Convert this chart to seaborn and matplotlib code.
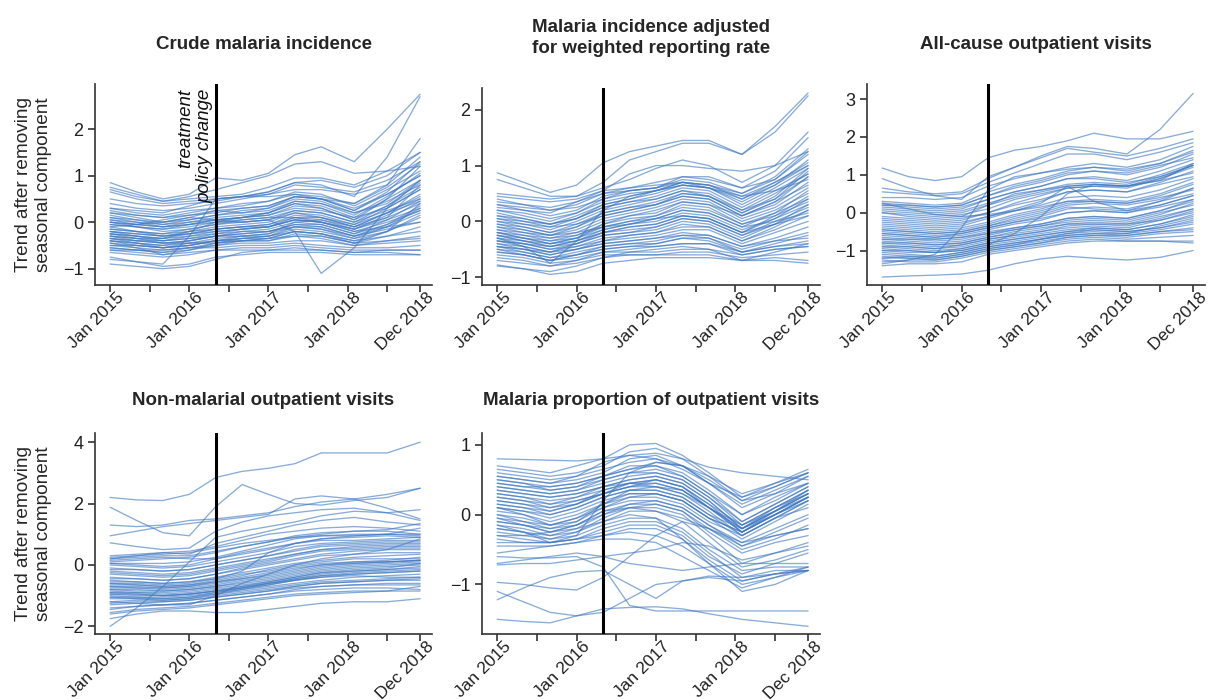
import matplotlib
matplotlib.use("Agg")
import matplotlib.pyplot as plt
import matplotlib.transforms as mtransforms
import pandas as pd
import seaborn as sns

# Months since Jan 2015 at which each district trend is sampled
months = [0, 4, 8, 12, 16, 20, 24, 28, 32, 37, 42, 47]

tick_months = [0, 6, 12, 18, 24, 30, 36, 42, 47]
tick_labels = ["Jan 2015", "", "Jan 2016", "", "Jan 2017", "", "Jan 2018", "", "Dec 2018"]
policy_change_month = 16

titles = [
    "Crude malaria incidence",
    "Malaria incidence adjusted\nfor weighted reporting rate",
    "All-cause outpatient visits",
    "Non-malarial outpatient visits",
    "Malaria proportion of outpatient visits",
]
ylabel = "Trend after removing\nseasonal component"

crude_incidence = [
    [0.85, 0.65, 0.50, 0.60, 0.95, 0.90, 1.05, 1.45, 1.62, 1.30, 2.00, 2.75],
    [0.75, 0.60, 0.45, 0.55, 0.70, 0.85, 1.00, 1.25, 1.30, 1.05, 1.10, 1.20],
    [0.70, 0.55, 0.45, 0.50, 0.55, 0.60, 0.75, 0.95, 0.95, 0.80, 1.10, 1.50],
    [0.65, 0.50, 0.40, 0.45, 0.50, 0.55, 0.65, 0.85, 0.80, 0.55, 1.40, 2.70],
    [0.50, 0.40, 0.35, 0.40, 0.45, 0.55, 0.60, 0.80, 0.75, 0.65, 0.90, 1.30],
    [0.40, 0.30, 0.25, 0.30, 0.40, 0.50, 0.60, 0.70, 0.70, 0.60, 0.80, 1.80],
    [0.30, 0.20, 0.15, 0.25, 0.30, 0.35, 0.45, 0.65, 0.60, 0.35, 0.70, 1.10],
    [0.25, 0.15, 0.10, 0.15, 0.20, 0.30, 0.35, 0.55, 0.50, 0.30, 0.60, 1.00],
    [0.20, 0.10, 0.00, 0.10, 0.25, 0.20, 0.25, 0.45, 0.40, 0.20, 0.40, 0.90],
    [0.15, 0.05, -0.05, 0.00, 0.10, 0.15, 0.20, 0.40, 0.30, 0.05, 0.50, 1.20],
    [0.10, 0.00, -0.10, 0.00, 0.05, 0.10, 0.15, 0.30, 0.25, 0.10, 0.30, 0.70],
    [0.05, -0.05, -0.10, -0.05, 0.00, 0.05, 0.10, 0.25, 0.20, 0.00, 0.25, 0.50],
    [0.00, -0.10, -0.15, -0.10, 0.00, 0.00, 0.05, 0.20, 0.15, -0.05, 0.20, 0.45],
    [-0.05, -0.10, -0.20, -0.15, -0.05, 0.05, 0.10, 0.10, 0.00, -0.15, 0.10, 0.40],
    [-0.10, -0.20, -0.25, -0.20, -0.10, -0.05, 0.00, 0.20, 0.10, -0.10, 0.20, 0.60],
    [-0.15, -0.20, -0.30, -0.20, -0.15, -0.10, -0.05, 0.10, 0.05, -0.15, 0.05, 0.30],
    [-0.20, -0.25, -0.30, -0.25, -0.20, -0.15, -0.10, 0.05, 0.00, -0.20, 0.00, 0.25],
    [-0.25, -0.30, -0.35, -0.30, -0.25, -0.20, -0.15, 0.00, -0.05, -0.25, -0.05, 0.35],
    [-0.30, -0.35, -0.40, -0.35, -0.30, -0.25, -0.20, -0.10, -0.10, -0.30, -0.10, 0.20],
    [-0.30, -0.40, -0.45, -0.40, -0.30, -0.30, -0.25, 0.00, 0.05, -0.10, 0.10, 0.80],
    [-0.35, -0.40, -0.45, -0.45, -0.35, -0.30, -0.30, -0.15, -0.20, -0.35, -0.20, 0.10],
    [-0.40, -0.45, -0.50, -0.45, -0.40, -0.35, -0.30, -0.20, -0.25, -0.40, -0.30, -0.10],
    [-0.40, -0.50, -0.55, -0.50, -0.40, -0.40, -0.35, -0.30, -0.30, -0.45, -0.40, -0.30],
    [-0.45, -0.50, -0.55, -0.45, -0.45, -0.40, -0.40, -0.25, -0.30, -0.45, -0.20, 0.40],
    [-0.50, -0.55, -0.60, -0.55, -0.50, -0.45, -0.45, -0.40, -0.40, -0.50, -0.45, -0.40],
    [-0.55, -0.60, -0.60, -0.55, -0.55, -0.50, -0.50, -0.45, -0.50, -0.55, -0.55, -0.50],
    [-0.60, -0.65, -0.70, -0.65, -0.60, -0.55, -0.55, -0.50, -0.55, -0.60, -0.60, -0.60],
    [-0.65, -0.70, -0.75, -0.70, -0.60, -0.60, -0.60, -0.60, -0.60, -0.65, -0.65, -0.70],
    [-0.75, -0.85, -0.95, -0.90, -0.75, -0.70, -0.65, -0.65, -0.65, -0.70, -0.70, -0.70],
    [-0.90, -0.95, -1.00, -0.95, -0.80, -0.65, -0.60, -0.55, -0.60, -0.65, -0.60, -0.60],
    [-0.80, -0.85, -0.90, -0.30, 0.50, 0.55, 0.55, 0.60, 0.50, 0.40, 0.80, 1.40],
    [-0.10, -0.05, 0.00, 0.10, 0.05, 0.00, 0.05, -0.20, -1.10, -0.55, 0.30, 0.90],
    [0.30, 0.25, 0.20, 0.35, 0.50, 0.55, 0.65, 0.85, 0.90, 0.75, 1.00, 1.50],
    [0.00, -0.05, 0.05, 0.15, 0.25, 0.30, 0.35, 0.55, 0.50, 0.25, 0.60, 1.00],
    [-0.20, -0.30, -0.35, -0.20, 0.00, 0.10, 0.20, 0.40, 0.35, 0.10, 0.50, 0.90],
    [-0.35, -0.40, -0.40, -0.30, -0.20, -0.15, -0.10, 0.10, 0.10, -0.05, 0.30, 0.70],
    [-0.25, -0.35, -0.45, -0.40, -0.30, -0.20, -0.20, -0.05, -0.10, -0.30, -0.15, 0.00],
    [-0.55, -0.60, -0.65, -0.60, -0.50, -0.40, -0.35, -0.20, -0.25, -0.45, -0.30, -0.20],
    [0.10, 0.05, 0.00, 0.05, 0.15, 0.25, 0.30, 0.50, 0.45, 0.20, 0.45, 0.80],
    [-0.45, -0.55, -0.70, -0.60, -0.45, -0.35, -0.30, -0.10, -0.15, -0.35, -0.10, 0.30],
    [-0.15, -0.20, -0.25, -0.15, -0.05, 0.00, 0.05, 0.25, 0.20, 0.00, 0.35, 0.85],
    [-0.30, -0.35, -0.35, -0.25, -0.15, -0.10, -0.05, 0.15, 0.10, -0.10, 0.20, 0.55],
    [-0.40, -0.45, -0.50, -0.40, -0.30, -0.25, -0.20, -0.05, -0.05, -0.25, 0.05, 0.45],
    [-0.50, -0.50, -0.55, -0.50, -0.40, -0.35, -0.35, -0.20, -0.25, -0.40, -0.20, 0.15],
    [0.05, 0.00, -0.05, 0.05, 0.15, 0.20, 0.30, 0.55, 0.50, 0.25, 0.65, 1.30],
    [-0.20, -0.25, -0.30, -0.25, -0.15, -0.10, -0.10, 0.05, 0.00, -0.20, -0.10, 0.00],
    [0.20, 0.15, 0.10, 0.20, 0.30, 0.40, 0.45, 0.60, 0.55, 0.40, 0.75, 1.25],
    [-0.05, -0.10, -0.15, -0.05, 0.05, 0.10, 0.15, 0.35, 0.30, 0.05, 0.35, 0.75],
    [-0.35, -0.45, -0.55, -0.50, -0.40, -0.30, -0.25, -0.10, -0.15, -0.30, -0.05, 0.25],
    [-0.60, -0.60, -0.65, -0.55, -0.45, -0.40, -0.40, -0.30, -0.35, -0.50, -0.40, -0.35],
    [0.00, -0.05, -0.10, -0.05, 0.05, 0.10, 0.20, 0.45, 0.40, 0.15, 0.55, 1.05],
    [-0.25, -0.30, -0.40, -0.35, -0.25, -0.15, -0.10, 0.05, 0.00, -0.15, 0.15, 0.50],
]

adjusted_incidence = [
    [0.87, 0.70, 0.52, 0.65, 1.05, 1.25, 1.35, 1.45, 1.45, 1.20, 1.70, 2.30],
    [0.75, 0.60, 0.45, 0.45, 0.70, 1.10, 1.25, 1.40, 1.40, 1.20, 1.60, 2.25],
    [0.45, 0.40, 0.35, 0.40, 0.55, 0.85, 1.00, 1.00, 0.95, 0.90, 1.00, 1.25],
    [0.50, 0.45, 0.40, 0.45, 0.60, 0.75, 0.95, 1.10, 1.00, 0.70, 1.00, 1.60],
    [0.30, 0.20, 0.15, 0.35, 0.55, 0.60, 0.70, 0.80, 0.75, 0.60, 0.90, 1.50],
    [0.25, 0.20, 0.10, 0.20, 0.45, 0.55, 0.60, 0.75, 0.70, 0.50, 0.80, 1.30],
    [0.20, 0.10, 0.00, 0.15, 0.40, 0.50, 0.55, 0.70, 0.65, 0.40, 0.70, 1.00],
    [0.15, 0.05, -0.05, 0.10, 0.30, 0.40, 0.50, 0.65, 0.60, 0.30, 0.60, 0.95],
    [0.10, 0.00, -0.10, 0.05, 0.25, 0.35, 0.45, 0.60, 0.55, 0.25, 0.55, 0.85],
    [0.05, -0.05, -0.15, 0.00, 0.20, 0.30, 0.40, 0.55, 0.45, 0.15, 0.40, 0.80],
    [0.00, -0.10, -0.20, -0.05, 0.15, 0.25, 0.30, 0.45, 0.40, 0.10, 0.30, 0.70],
    [-0.05, -0.15, -0.25, -0.15, 0.05, 0.15, 0.25, 0.40, 0.35, 0.05, 0.25, 0.60],
    [-0.10, -0.20, -0.30, -0.20, 0.00, 0.10, 0.20, 0.35, 0.30, 0.00, 0.20, 0.50],
    [-0.15, -0.25, -0.35, -0.25, -0.05, 0.05, 0.10, 0.25, 0.20, -0.05, 0.15, 0.40],
    [-0.20, -0.30, -0.40, -0.30, -0.15, -0.05, 0.00, 0.15, 0.10, -0.15, 0.05, 0.30],
    [-0.25, -0.35, -0.45, -0.35, -0.20, -0.15, -0.10, 0.05, 0.00, -0.25, 0.00, 0.25],
    [-0.30, -0.40, -0.45, -0.40, -0.25, -0.20, -0.15, 0.00, -0.05, -0.30, -0.05, 0.20],
    [-0.35, -0.40, -0.50, -0.45, -0.30, -0.25, -0.20, -0.10, -0.10, -0.35, -0.15, 0.10],
    [-0.40, -0.45, -0.55, -0.45, -0.35, -0.30, -0.25, -0.15, -0.15, -0.40, -0.20, 0.00],
    [-0.40, -0.50, -0.60, -0.50, -0.40, -0.35, -0.30, -0.20, -0.25, -0.45, -0.30, -0.10],
    [-0.45, -0.55, -0.65, -0.55, -0.45, -0.40, -0.40, -0.30, -0.30, -0.50, -0.35, -0.20],
    [-0.50, -0.55, -0.65, -0.60, -0.50, -0.45, -0.45, -0.40, -0.40, -0.55, -0.45, -0.40],
    [-0.55, -0.60, -0.70, -0.65, -0.55, -0.55, -0.55, -0.50, -0.50, -0.60, -0.50, -0.45],
    [-0.60, -0.65, -0.75, -0.70, -0.60, -0.60, -0.60, -0.55, -0.55, -0.65, -0.60, -0.55],
    [-0.70, -0.75, -0.80, -0.75, -0.65, -0.60, -0.60, -0.60, -0.60, -0.70, -0.65, -0.70],
    [-0.80, -0.85, -0.95, -0.90, -0.75, -0.70, -0.65, -0.65, -0.65, -0.70, -0.70, -0.75],
    [-0.78, -0.85, -0.90, -0.80, -0.65, -0.55, -0.50, -0.45, -0.50, -0.70, -0.55, -0.40],
    [-0.30, -0.45, -0.75, -0.35, 0.20, 0.45, 0.55, 0.65, 0.60, 0.45, 0.70, 1.05],
    [0.30, 0.25, 0.20, 0.25, 0.40, 0.55, 0.60, 0.80, 0.80, 0.60, 0.75, 1.20],
    [0.00, -0.05, -0.10, -0.05, 0.10, 0.20, 0.30, 0.50, 0.45, 0.20, 0.40, 0.90],
    [-0.20, -0.25, -0.30, -0.25, -0.10, 0.00, 0.10, 0.30, 0.25, -0.05, 0.10, 0.45],
    [-0.35, -0.45, -0.55, -0.40, -0.20, -0.10, -0.05, 0.10, 0.05, -0.20, 0.10, 0.35],
    [-0.50, -0.60, -0.70, -0.60, -0.45, -0.40, -0.35, -0.25, -0.30, -0.55, -0.40, -0.25],
    [-0.15, -0.20, -0.25, -0.20, -0.10, 0.00, 0.05, 0.20, 0.15, -0.10, 0.00, 0.15],
    [0.40, 0.30, 0.20, 0.30, 0.50, 0.60, 0.65, 0.70, 0.65, 0.45, 0.55, 0.75],
    [-0.45, -0.50, -0.55, -0.50, -0.40, -0.35, -0.30, -0.25, -0.25, -0.45, -0.35, -0.30],
    [0.05, 0.00, -0.05, 0.05, 0.30, 0.40, 0.55, 0.70, 0.60, 0.40, 0.65, 1.00],
    [-0.25, -0.30, -0.40, -0.30, -0.05, 0.10, 0.15, 0.35, 0.30, 0.10, 0.35, 0.80],
    [-0.10, -0.15, -0.25, -0.10, 0.15, 0.25, 0.35, 0.50, 0.45, 0.15, 0.45, 0.95],
    [-0.30, -0.35, -0.45, -0.35, -0.15, -0.05, 0.05, 0.20, 0.15, -0.10, 0.15, 0.55],
    [-0.45, -0.50, -0.60, -0.50, -0.35, -0.25, -0.20, -0.05, -0.10, -0.35, -0.10, 0.20],
    [0.20, 0.15, 0.05, 0.15, 0.35, 0.45, 0.55, 0.65, 0.60, 0.35, 0.65, 1.10],
    [-0.20, -0.30, -0.35, -0.30, -0.10, -0.05, 0.05, 0.10, 0.05, -0.20, -0.05, 0.10],
    [0.10, 0.05, -0.05, 0.05, 0.25, 0.35, 0.40, 0.55, 0.50, 0.20, 0.50, 0.85],
    [-0.55, -0.60, -0.70, -0.60, -0.50, -0.45, -0.40, -0.30, -0.35, -0.55, -0.45, -0.35],
    [-0.05, -0.10, -0.20, -0.10, 0.10, 0.20, 0.30, 0.45, 0.40, 0.10, 0.35, 0.65],
    [-0.35, -0.40, -0.50, -0.40, -0.25, -0.20, -0.10, 0.05, 0.00, -0.25, -0.05, 0.30],
    [0.35, 0.30, 0.25, 0.35, 0.50, 0.55, 0.60, 0.70, 0.65, 0.50, 0.75, 1.25],
    [-0.65, -0.70, -0.80, -0.70, -0.55, -0.50, -0.45, -0.40, -0.40, -0.60, -0.50, -0.45],
    [-0.25, -0.35, -0.40, -0.35, -0.20, -0.10, -0.05, 0.10, 0.05, -0.20, 0.05, 0.40],
]

allcause_visits = [
    [1.18, 0.95, 0.85, 0.95, 1.45, 1.65, 1.75, 1.90, 2.10, 1.95, 1.95, 2.15],
    [0.90, 0.65, 0.45, 0.35, 0.95, 1.20, 1.50, 1.75, 1.70, 1.55, 2.20, 3.15],
    [0.65, 0.55, 0.50, 0.55, 0.90, 1.20, 1.45, 1.70, 1.60, 1.50, 1.70, 1.95],
    [0.55, 0.50, 0.45, 0.50, 0.80, 1.05, 1.30, 1.55, 1.55, 1.40, 1.60, 1.85],
    [0.40, 0.40, 0.35, 0.40, 0.70, 0.90, 1.05, 1.20, 1.30, 1.20, 1.40, 1.75],
    [0.30, 0.25, 0.20, 0.25, 0.55, 0.75, 0.90, 1.10, 1.20, 1.10, 1.30, 1.65],
    [0.25, 0.20, 0.15, 0.20, 0.45, 0.65, 0.80, 1.00, 1.10, 1.00, 1.20, 1.55],
    [0.20, 0.15, 0.10, 0.15, 0.35, 0.55, 0.70, 0.90, 0.95, 0.85, 1.10, 1.40],
    [0.10, 0.05, 0.00, 0.05, 0.25, 0.45, 0.60, 0.75, 0.80, 0.75, 1.00, 1.30],
    [0.00, -0.05, -0.10, -0.05, 0.10, 0.35, 0.50, 0.65, 0.70, 0.65, 0.90, 1.20],
    [-0.10, -0.15, -0.20, -0.15, 0.00, 0.25, 0.45, 0.65, 0.70, 0.70, 0.85, 1.05],
    [-0.20, -0.25, -0.30, -0.25, -0.10, 0.10, 0.30, 0.55, 0.60, 0.55, 0.75, 0.95],
    [-0.30, -0.35, -0.40, -0.35, -0.15, 0.05, 0.20, 0.40, 0.45, 0.40, 0.60, 0.90],
    [-0.40, -0.45, -0.50, -0.45, -0.30, -0.10, 0.05, 0.25, 0.30, 0.25, 0.40, 0.60],
    [-0.50, -0.55, -0.60, -0.55, -0.40, -0.25, -0.10, 0.10, 0.15, 0.10, 0.30, 0.50],
    [-0.55, -0.60, -0.65, -0.60, -0.45, -0.30, -0.20, 0.00, 0.05, 0.00, 0.15, 0.35],
    [-0.60, -0.65, -0.70, -0.65, -0.50, -0.40, -0.30, -0.15, -0.10, -0.15, 0.05, 0.30],
    [-0.70, -0.75, -0.80, -0.75, -0.60, -0.45, -0.35, -0.20, -0.15, -0.20, 0.00, 0.20],
    [-0.75, -0.80, -0.85, -0.80, -0.65, -0.55, -0.45, -0.30, -0.25, -0.30, -0.10, 0.10],
    [-0.80, -0.85, -0.90, -0.85, -0.70, -0.60, -0.50, -0.40, -0.35, -0.40, -0.20, 0.00],
    [-0.85, -0.90, -0.95, -0.90, -0.75, -0.65, -0.55, -0.45, -0.40, -0.45, -0.30, -0.10],
    [-0.90, -0.95, -1.00, -0.95, -0.80, -0.70, -0.60, -0.50, -0.45, -0.50, -0.40, -0.20],
    [-1.00, -1.05, -1.05, -1.00, -0.85, -0.75, -0.65, -0.55, -0.50, -0.55, -0.45, -0.30],
    [-1.05, -1.10, -1.15, -1.05, -0.90, -0.80, -0.70, -0.60, -0.55, -0.60, -0.50, -0.40],
    [-1.10, -1.15, -1.20, -1.10, -0.95, -0.85, -0.75, -0.65, -0.60, -0.65, -0.55, -0.50],
    [-1.20, -1.20, -1.25, -1.15, -1.00, -0.90, -0.80, -0.70, -0.65, -0.70, -0.65, -0.60],
    [-1.25, -1.30, -1.30, -1.20, -1.05, -0.95, -0.85, -0.75, -0.70, -0.75, -0.75, -0.75],
    [-1.40, -1.35, -1.35, -1.30, -1.10, -1.00, -0.90, -0.80, -0.75, -0.75, -0.75, -0.80],
    [-1.70, -1.67, -1.65, -1.62, -1.52, -1.35, -1.22, -1.15, -1.20, -1.25, -1.18, -1.00],
    [-1.35, -1.25, -1.10, -0.40, 0.60, 0.95, 1.05, 1.15, 1.20, 1.15, 1.30, 1.60],
    [0.25, 0.10, -0.05, -0.10, -0.05, 0.05, 0.25, 0.70, 0.75, 0.70, 0.85, 1.30],
    [-0.95, -1.00, -1.05, -1.00, -0.85, -0.55, -0.10, 0.50, 0.75, 0.70, 0.90, 1.25],
    [0.00, -0.10, -0.15, -0.10, 0.20, 0.50, 0.60, 0.70, 0.30, 0.05, 0.30, 0.65],
    [-0.45, -0.50, -0.55, -0.50, -0.35, -0.20, -0.05, 0.15, 0.10, 0.05, 0.20, 0.45],
    [-0.65, -0.70, -0.70, -0.65, -0.55, -0.45, -0.35, -0.25, -0.20, -0.25, -0.05, 0.25],
    [0.15, 0.10, 0.05, 0.10, 0.35, 0.55, 0.70, 0.90, 0.90, 0.80, 0.95, 1.25],
    [-0.25, -0.30, -0.35, -0.30, -0.10, 0.05, 0.15, 0.30, 0.30, 0.25, 0.45, 0.75],
    [-1.15, -1.20, -1.20, -1.10, -0.95, -0.85, -0.70, -0.60, -0.55, -0.55, -0.35, -0.15],
    [-0.35, -0.40, -0.45, -0.40, -0.25, -0.05, 0.10, 0.30, 0.35, 0.30, 0.50, 0.80],
    [-0.55, -0.60, -0.65, -0.55, -0.40, -0.25, -0.15, 0.00, 0.05, 0.00, 0.20, 0.45],
    [-0.90, -0.90, -0.95, -0.85, -0.70, -0.60, -0.50, -0.35, -0.30, -0.35, -0.15, 0.10],
    [-1.00, -1.00, -1.05, -0.95, -0.80, -0.70, -0.60, -0.50, -0.40, -0.45, -0.30, -0.05],
    [0.05, 0.00, -0.05, 0.00, 0.20, 0.40, 0.55, 0.70, 0.75, 0.70, 0.95, 1.25],
    [-0.15, -0.20, -0.25, -0.20, 0.00, 0.20, 0.35, 0.55, 0.60, 0.55, 0.80, 1.10],
    [-0.70, -0.70, -0.75, -0.70, -0.55, -0.40, -0.30, -0.15, -0.10, -0.15, 0.05, 0.35],
    [-1.20, -1.15, -1.15, -1.05, -0.90, -0.80, -0.70, -0.55, -0.45, -0.50, -0.40, -0.25],
    [0.20, 0.20, 0.15, 0.20, 0.45, 0.70, 0.85, 1.05, 1.10, 1.05, 1.25, 1.45],
    [-0.45, -0.50, -0.55, -0.50, -0.35, -0.15, 0.00, 0.20, 0.25, 0.20, 0.35, 0.65],
    [-0.80, -0.80, -0.85, -0.80, -0.65, -0.50, -0.40, -0.30, -0.30, -0.30, -0.20, 0.05],
    [-1.30, -1.25, -1.25, -1.15, -1.00, -0.90, -0.80, -0.65, -0.60, -0.60, -0.50, -0.45],
]

nonmalarial_visits = [
    [2.20, 2.12, 2.10, 2.30, 2.85, 3.05, 3.15, 3.30, 3.65, 3.65, 3.65, 4.00],
    [1.88, 1.45, 1.05, 0.95, 1.90, 2.62, 2.30, 2.00, 1.95, 2.10, 2.20, 2.50],
    [1.30, 1.25, 1.30, 1.45, 1.50, 1.60, 1.70, 1.90, 2.05, 2.15, 2.30, 2.50],
    [0.95, 1.10, 1.25, 1.35, 1.45, 1.55, 1.65, 2.15, 2.25, 2.15, 1.85, 1.50],
    [0.72, 0.60, 0.50, 0.55, 1.10, 1.40, 1.60, 1.70, 1.80, 1.85, 1.70, 1.45],
    [-2.00, -1.40, -0.70, 0.10, 0.90, 1.10, 1.25, 1.40, 1.60, 1.75, 1.70, 1.80],
    [0.30, 0.35, 0.40, 0.35, 0.70, 0.90, 1.10, 1.30, 1.45, 1.55, 1.40, 1.30],
    [0.20, 0.30, 0.40, 0.45, 0.60, 0.80, 1.00, 1.10, 1.20, 1.25, 1.20, 1.10],
    [0.10, 0.15, 0.20, 0.25, 0.40, 0.60, 0.75, 0.90, 1.00, 1.10, 1.10, 1.00],
    [0.05, 0.00, -0.05, 0.00, 0.20, 0.40, 0.55, 0.70, 0.85, 0.90, 0.95, 0.90],
    [0.00, -0.05, -0.10, -0.05, 0.10, 0.25, 0.40, 0.60, 0.70, 0.75, 0.80, 0.80],
    [-0.10, -0.15, -0.20, -0.15, 0.00, 0.15, 0.30, 0.45, 0.60, 0.65, 0.70, 0.70],
    [-0.20, -0.25, -0.30, -0.25, -0.10, 0.05, 0.20, 0.35, 0.50, 0.55, 0.60, 0.60],
    [-0.40, -0.45, -0.50, -0.45, -0.30, -0.10, 0.05, 0.20, 0.35, 0.45, 0.50, 0.50],
    [-0.55, -0.55, -0.60, -0.55, -0.40, -0.25, -0.10, 0.05, 0.15, 0.25, 0.30, 0.35],
    [-0.65, -0.65, -0.70, -0.65, -0.55, -0.40, -0.25, -0.10, 0.00, 0.10, 0.15, 0.25],
    [-0.75, -0.75, -0.80, -0.75, -0.65, -0.50, -0.40, -0.25, -0.10, 0.00, 0.05, 0.10],
    [-0.80, -0.85, -0.85, -0.80, -0.70, -0.60, -0.50, -0.35, -0.20, -0.10, -0.05, 0.00],
    [-0.85, -0.90, -0.95, -0.90, -0.80, -0.70, -0.60, -0.45, -0.30, -0.20, -0.15, -0.10],
    [-0.90, -0.95, -1.00, -0.95, -0.85, -0.75, -0.65, -0.50, -0.40, -0.30, -0.25, -0.20],
    [-1.00, -1.05, -1.05, -1.00, -0.90, -0.80, -0.70, -0.60, -0.50, -0.40, -0.35, -0.30],
    [-1.10, -1.10, -1.10, -1.05, -0.95, -0.85, -0.75, -0.65, -0.55, -0.50, -0.45, -0.40],
    [-1.20, -1.15, -1.15, -1.10, -1.00, -0.90, -0.80, -0.70, -0.60, -0.55, -0.50, -0.50],
    [-1.30, -1.25, -1.20, -1.15, -1.05, -0.95, -0.85, -0.75, -0.70, -0.65, -0.60, -0.60],
    [-1.40, -1.35, -1.30, -1.25, -1.15, -1.05, -0.95, -0.85, -0.80, -0.75, -0.75, -0.80],
    [-1.55, -1.45, -1.40, -1.35, -1.25, -1.15, -1.05, -0.95, -0.90, -0.85, -0.85, -0.85],
    [-1.75, -1.60, -1.50, -1.50, -1.55, -1.55, -1.45, -1.35, -1.25, -1.20, -1.20, -1.10],
    [-0.50, -0.55, -0.60, -0.55, -0.45, -0.20, 0.40, 0.70, 0.85, 0.95, 1.00, 1.00],
    [-1.20, -1.25, -1.30, -1.30, -1.00, -0.60, -0.30, 0.00, 0.20, 0.35, 0.50, 0.85],
    [0.25, 0.30, 0.35, 0.40, 0.55, 0.70, 0.80, 0.90, 0.95, 0.95, 1.00, 1.20],
    [-0.30, -0.35, -0.40, -0.35, -0.20, -0.05, 0.10, 0.30, 0.45, 0.50, 0.55, 0.55],
    [-0.70, -0.70, -0.75, -0.70, -0.55, -0.45, -0.35, -0.20, -0.05, 0.05, 0.10, 0.15],
    [-0.95, -1.00, -1.00, -0.95, -0.85, -0.70, -0.55, -0.40, -0.25, -0.20, -0.15, -0.05],
    [-0.60, -0.65, -0.70, -0.65, -0.50, -0.35, -0.15, 0.00, 0.10, 0.20, 0.20, 0.20],
    [0.15, 0.20, 0.25, 0.20, 0.20, 0.35, 0.50, 0.70, 0.80, 0.80, 0.85, 0.90],
    [-1.05, -1.10, -1.15, -1.10, -0.95, -0.80, -0.65, -0.50, -0.40, -0.35, -0.40, -0.40],
    [-0.25, -0.30, -0.35, -0.30, -0.15, 0.00, 0.15, 0.35, 0.50, 0.60, 0.65, 0.65],
    [-1.60, -1.50, -1.45, -1.40, -1.30, -1.20, -1.10, -1.00, -0.95, -0.90, -0.85, -0.70],
    [-0.70, -0.75, -0.75, -0.70, -0.60, -0.45, -0.30, -0.15, 0.00, 0.05, 0.10, 0.15],
    [-0.90, -0.90, -0.90, -0.85, -0.75, -0.65, -0.55, -0.40, -0.25, -0.15, -0.10, 0.05],
    [-1.05, -1.05, -1.10, -1.05, -0.90, -0.75, -0.60, -0.45, -0.35, -0.25, -0.20, -0.15],
    [-0.45, -0.45, -0.50, -0.45, -0.30, -0.15, 0.00, 0.15, 0.30, 0.35, 0.40, 0.40],
    [-1.25, -1.20, -1.20, -1.15, -1.05, -0.95, -0.85, -0.70, -0.60, -0.55, -0.50, -0.45],
    [0.05, 0.05, 0.05, 0.10, 0.25, 0.45, 0.65, 0.85, 0.95, 1.00, 1.00, 0.95],
    [-0.80, -0.80, -0.85, -0.80, -0.70, -0.55, -0.45, -0.30, -0.15, -0.05, 0.00, 0.05],
    [-0.15, -0.15, -0.20, -0.15, 0.00, 0.15, 0.30, 0.50, 0.65, 0.70, 0.75, 0.75],
    [-1.45, -1.35, -1.30, -1.25, -1.15, -1.05, -0.95, -0.80, -0.70, -0.65, -0.65, -0.65],
    [-0.60, -0.60, -0.65, -0.60, -0.45, -0.30, -0.20, -0.05, 0.05, 0.10, 0.10, 0.15],
    [-0.95, -0.95, -1.00, -0.95, -0.85, -0.75, -0.60, -0.50, -0.35, -0.30, -0.25, -0.20],
    [0.20, 0.25, 0.30, 0.30, 0.45, 0.60, 0.75, 0.95, 1.05, 1.10, 1.15, 1.35],
]

malaria_proportion = [
    [0.80, 0.79, 0.78, 0.77, 0.80, 0.85, 0.88, 0.80, 0.68, 0.60, 0.55, 0.50],
    [0.70, 0.65, 0.60, 0.70, 0.80, 1.00, 1.02, 0.85, 0.60, 0.25, 0.45, 0.65],
    [0.65, 0.60, 0.55, 0.60, 0.70, 0.90, 0.95, 0.80, 0.55, 0.20, 0.40, 0.60],
    [0.55, 0.50, 0.45, 0.55, 0.65, 0.75, 0.80, 0.70, 0.45, 0.10, 0.30, 0.55],
    [0.50, 0.45, 0.40, 0.45, 0.55, 0.65, 0.70, 0.60, 0.35, 0.00, 0.20, 0.45],
    [0.45, 0.40, 0.35, 0.40, 0.50, 0.60, 0.65, 0.55, 0.30, -0.10, 0.15, 0.40],
    [0.40, 0.35, 0.30, 0.35, 0.45, 0.55, 0.60, 0.50, 0.25, -0.15, 0.10, 0.35],
    [0.35, 0.30, 0.25, 0.30, 0.40, 0.50, 0.55, 0.45, 0.20, -0.20, 0.05, 0.30],
    [0.30, 0.25, 0.20, 0.25, 0.35, 0.45, 0.50, 0.40, 0.15, -0.25, 0.00, 0.25],
    [0.25, 0.20, 0.10, 0.20, 0.30, 0.40, 0.45, 0.35, 0.10, -0.25, 0.05, 0.35],
    [0.20, 0.15, 0.05, 0.15, 0.30, 0.40, 0.40, 0.30, 0.05, -0.30, -0.05, 0.20],
    [0.15, 0.10, 0.00, 0.10, 0.25, 0.35, 0.35, 0.25, 0.00, -0.20, 0.05, 0.30],
    [0.10, 0.05, -0.05, 0.05, 0.20, 0.30, 0.30, 0.20, -0.05, -0.35, -0.10, 0.15],
    [0.05, 0.00, -0.10, 0.00, 0.15, 0.25, 0.25, 0.15, -0.10, -0.30, -0.05, 0.10],
    [0.00, -0.05, -0.15, -0.05, 0.10, 0.20, 0.20, 0.10, -0.15, -0.40, -0.20, 0.00],
    [-0.05, -0.10, -0.20, -0.10, 0.10, 0.25, 0.30, 0.20, -0.05, -0.25, 0.00, 0.25],
    [-0.10, -0.15, -0.25, -0.15, 0.05, 0.15, 0.15, 0.05, -0.25, -0.55, -0.40, -0.30],
    [-0.15, -0.20, -0.30, -0.20, 0.00, 0.10, 0.10, 0.00, -0.30, -0.70, -0.55, -0.40],
    [-0.20, -0.25, -0.30, -0.25, -0.10, 0.05, 0.05, -0.10, -0.40, -0.75, -0.65, -0.50],
    [-0.25, -0.30, -0.35, -0.30, -0.15, -0.05, -0.05, -0.20, -0.50, -0.80, -0.75, -0.75],
    [-0.30, -0.35, -0.40, -0.35, -0.20, -0.10, -0.10, -0.25, -0.55, -0.90, -0.80, -0.80],
    [-0.35, -0.40, -0.40, -0.35, -0.30, -0.20, -0.20, -0.35, -0.65, -0.95, -0.85, -0.80],
    [-0.45, -0.45, -0.45, -0.40, -0.30, -0.25, -0.30, -0.45, -0.70, -1.00, -0.90, -0.75],
    [-0.55, -0.50, -0.45, -0.40, -0.35, -0.35, -0.40, -0.60, -0.80, -1.05, -0.90, -0.80],
    [-0.70, -0.65, -0.60, -0.55, -0.60, -0.70, -0.75, -0.80, -0.75, -0.70, -0.70, -0.70],
    [-0.72, -0.70, -0.70, -0.65, -0.60, -0.55, -0.50, -0.40, -0.45, -0.65, -0.55, -0.45],
    [-0.97, -1.00, -1.05, -1.08, -0.90, -0.60, -0.30, -0.10, -0.20, -0.45, -0.30, -0.20],
    [-1.10, -1.25, -1.40, -1.45, -1.40, -1.20, -1.00, -0.95, -0.90, -0.95, -0.85, -0.75],
    [-1.50, -1.53, -1.55, -1.45, -1.35, -1.33, -1.32, -1.35, -1.42, -1.50, -1.55, -1.60],
    [-0.60, -0.62, -0.62, -0.60, -0.75, -1.30, -1.38, -1.38, -1.38, -1.38, -1.38, -1.38],
    [-1.22, -1.05, -0.90, -0.82, -0.80, -1.00, -1.20, -0.95, -0.88, -0.90, -0.85, -0.80],
    [-0.15, -0.25, -0.40, -0.30, 0.20, 0.60, 0.75, 0.70, 0.55, 0.30, 0.45, 0.60],
    [0.60, 0.55, 0.50, 0.55, 0.75, 0.85, 0.80, 0.65, 0.45, 0.25, 0.40, 0.60],
    [0.35, 0.30, 0.25, 0.30, 0.40, 0.45, 0.40, 0.30, 0.10, -0.15, 0.10, 0.35],
    [0.10, 0.00, -0.15, -0.10, 0.15, 0.35, 0.40, 0.35, 0.10, -0.20, 0.00, 0.25],
    [-0.30, -0.30, -0.25, -0.20, -0.10, 0.00, -0.05, -0.35, -0.70, -1.10, -1.00, -0.80],
    [0.45, 0.40, 0.40, 0.45, 0.55, 0.65, 0.75, 0.70, 0.50, 0.20, 0.30, 0.45],
    [-0.05, -0.15, -0.25, -0.15, 0.05, 0.10, 0.05, -0.05, -0.20, -0.40, -0.30, -0.20],
    [0.40, 0.35, 0.30, 0.35, 0.50, 0.60, 0.60, 0.50, 0.25, -0.10, 0.15, 0.40],
    [0.30, 0.25, 0.15, 0.25, 0.40, 0.50, 0.55, 0.45, 0.20, -0.20, 0.10, 0.30],
    [0.20, 0.15, 0.10, 0.15, 0.35, 0.45, 0.45, 0.35, 0.10, -0.20, 0.05, 0.30],
    [0.10, 0.05, 0.00, 0.10, 0.25, 0.35, 0.35, 0.25, 0.00, -0.30, -0.05, 0.20],
    [0.00, -0.10, -0.15, -0.05, 0.15, 0.30, 0.30, 0.20, -0.05, -0.25, 0.00, 0.25],
    [0.50, 0.45, 0.35, 0.40, 0.55, 0.70, 0.70, 0.55, 0.30, 0.00, 0.25, 0.45],
    [-0.20, -0.25, -0.35, -0.25, -0.05, 0.10, 0.15, 0.05, -0.20, -0.50, -0.35, -0.15],
    [0.25, 0.20, 0.15, 0.20, 0.30, 0.40, 0.50, 0.40, 0.15, -0.15, 0.05, 0.25],
    [-0.10, -0.15, -0.20, -0.15, 0.00, 0.15, 0.20, 0.10, -0.15, -0.45, -0.25, -0.05],
    [0.15, 0.10, 0.05, 0.15, 0.30, 0.45, 0.50, 0.40, 0.10, -0.25, 0.00, 0.20],
    [-0.40, -0.40, -0.40, -0.35, -0.25, -0.15, -0.15, -0.30, -0.60, -0.85, -0.70, -0.55],
    [0.55, 0.50, 0.45, 0.50, 0.60, 0.80, 0.85, 0.70, 0.45, 0.15, 0.35, 0.55],
]

panels = [crude_incidence, adjusted_incidence, allcause_visits, nonmalarial_visits, malaria_proportion]
ylims = [(-1.35, 2.97), (-1.14, 2.39), (-1.91, 3.40), (-2.25, 4.30), (-1.71, 1.17)]
yticks = [[-1, 0, 1, 2], [-1, 0, 1, 2], [-1, 0, 1, 2, 3], [-2, 0, 2, 4], [-1, 0, 1]]

# axes boxes in pixels: left, top, width, height (figure is 1211 x 700)
W, H = 1211, 700
boxes = [
    (95, 84, 337, 201),
    (482, 88, 338, 197),
    (867, 84, 338, 201),
    (95, 433, 337, 201),
    (482, 433, 338, 201),
]

sns.set_theme(style="ticks")
plt.rcParams["font.family"] = ["Liberation Sans", "DejaVu Sans"]
plt.rcParams["axes.edgecolor"] = "#333333"
plt.rcParams["xtick.color"] = "#222222"
plt.rcParams["ytick.color"] = "#222222"

fig = plt.figure(figsize=(W / 100, H / 100), dpi=100)
line_color = "#4079c2"
# nudge the slanted date labels to the right of their ticks
label_shift = mtransforms.ScaledTranslation(6 / 100, 5 / 100, fig.dpi_scale_trans)

for i, (series, box) in enumerate(zip(panels, boxes)):
    left, top, w, h = box
    ax = fig.add_axes([left / W, (H - top - h) / H, w / W, h / H])
    rows = []
    for uid, vals in enumerate(series):
        for m, v in zip(months, vals):
            rows.append({"month": m, "value": v, "district": uid})
    df = pd.DataFrame(rows)
    sns.lineplot(data=df, x="month", y="value", units="district", estimator=None,
                 color=line_color, alpha=0.62, linewidth=0.95, ax=ax, legend=False)
    ax.axvline(policy_change_month, color="black", linewidth=2.2, zorder=5)
    ax.set_xlim(-2.3, 48.8)
    ax.set_ylim(*ylims[i])
    ax.set_yticks(yticks[i])
    ax.set_yticklabels(["\u2212" + str(abs(t)) if t < 0 else str(t) for t in yticks[i]], fontsize=13)
    ax.set_xticks(tick_months)
    ax.tick_params(axis="both", length=5, width=1.1)
    ax.tick_params(axis="x", pad=2)
    ax.set_xticklabels(tick_labels, rotation=45, ha="right", rotation_mode="anchor", fontsize=12.5)
    for lab in ax.get_xticklabels():
        lab.set_transform(lab.get_transform() + label_shift)
    for sp in ("left", "bottom"):
        ax.spines[sp].set_linewidth(1.2)
    sns.despine(ax=ax)
    ax.set_xlabel("")
    if i in (0, 3):
        ax.set_ylabel(ylabel, fontsize=13.7, labelpad=8)
    else:
        ax.set_ylabel("")
    pad = 25 if i < 3 else 20
    ax.set_title(titles[i], fontsize=13.5, fontweight="bold", pad=pad, linespacing=1.3)
    if i == 0:
        trans = mtransforms.blended_transform_factory(ax.transData, ax.transAxes)
        ax.text(policy_change_month - 0.35, 0.975, "treatment\npolicy change", transform=trans,
                rotation=90, ha="right", va="top", multialignment="right",
                fontsize=13.5, style="italic", color="#111111", linespacing=1.15)

fig.savefig("out.png", dpi=100)
